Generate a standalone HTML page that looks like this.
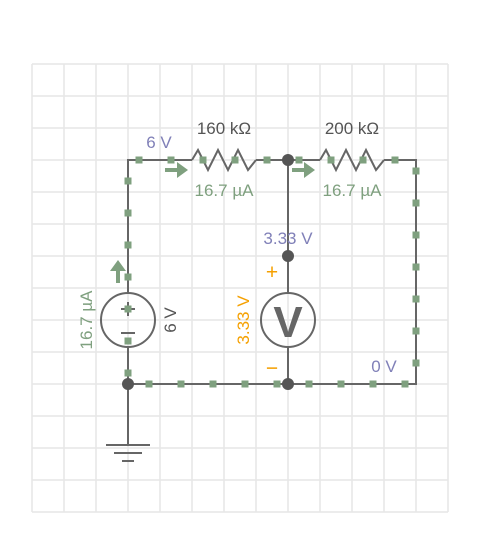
<!DOCTYPE html>
<html><head><meta charset="utf-8"><style>
html,body{margin:0;padding:0;background:#fff;}
svg{display:block;font-family:"Liberation Sans",sans-serif;}
</style></head><body>
<svg width="480" height="544" viewBox="0 0 480 544">
<g id="grid" stroke="#e6e6e6" stroke-width="1.5"></g>
<g stroke="#666" stroke-width="2" fill="none">
<polyline points="128,293 128,160 192,160"/>
<polyline points="192,160 198,150 208,170 218,150 228,170 238,150 248,170 256,160"/>
<polyline points="256,160 320,160"/>
<polyline points="320,160 326,150 336,170 346,150 356,170 366,150 376,170 384,160"/>
<polyline points="384,160 416,160 416,384 128,384 128,347"/>
<line x1="288" y1="160" x2="288" y2="293"/>
<line x1="288" y1="347" x2="288" y2="384"/>
<line x1="128" y1="384" x2="128" y2="445"/>
<line x1="106" y1="445" x2="150" y2="445"/>
<line x1="114" y1="453" x2="142" y2="453"/>
<line x1="122" y1="461" x2="134" y2="461"/>
<circle cx="128" cy="320" r="27"/>
<circle cx="288" cy="320" r="27"/>
<line x1="121" y1="309" x2="135" y2="309"/>
<line x1="128" y1="302" x2="128" y2="316"/>
<line x1="121" y1="333" x2="135" y2="333"/>
</g>
<text x="288" y="337" text-anchor="middle" font-size="44" font-weight="bold" fill="#666">V</text>
<g id="dots" fill="#7fa07f"></g>
<g fill="#555">
<circle cx="288" cy="160" r="6"/>
<circle cx="128" cy="384" r="6"/>
<circle cx="288" cy="384" r="6"/>
<circle cx="288" cy="256" r="6"/>
</g>
<g fill="#7fa07f">
<path d="M165,168h12v-6l11,8l-11,8v-6h-12z"/>
<path d="M292,168h12v-6l11,8l-11,8v-6h-12z"/>
<path d="M116,283v-12h-6l8,-11l8,11h-6v12z"/>
</g>
<g font-size="17">
<text x="224" y="134" text-anchor="middle" fill="#555">160 kΩ</text>
<text x="352" y="134" text-anchor="middle" fill="#555">200 kΩ</text>
<text x="224" y="196" text-anchor="middle" fill="#7fa07f">16.7 µA</text>
<text x="352" y="196" text-anchor="middle" fill="#7fa07f">16.7 µA</text>
<text x="159" y="148" text-anchor="middle" fill="#8080b8">6 V</text>
<text x="288" y="244" text-anchor="middle" fill="#8080b8">3.33 V</text>
<text x="384" y="372" text-anchor="middle" fill="#8080b8">0 V</text>
<text transform="translate(92,320) rotate(-90)" text-anchor="middle" fill="#7fa07f">16.7 µA</text>
<text transform="translate(176,320) rotate(-90)" text-anchor="middle" fill="#555">6 V</text>
<text transform="translate(249,320) rotate(-90)" text-anchor="middle" fill="#f5a000">3.33 V</text>
<text x="272" y="279" text-anchor="middle" font-size="21" fill="#f5a000">+</text>
<text x="272" y="375" text-anchor="middle" font-size="21" fill="#f5a000">−</text>
</g>
</svg>
<script>
var NS='http://www.w3.org/2000/svg';
var g=document.getElementById('grid');
for(var x=32;x<=448;x+=32){var l=document.createElementNS(NS,'line');l.setAttribute('x1',x);l.setAttribute('x2',x);l.setAttribute('y1',64);l.setAttribute('y2',512);


g.appendChild(l);}
for(var y=64;y<=512;y+=32){var l=document.createElementNS(NS,'line');l.setAttribute('y1',y);l.setAttribute('y2',y);l.setAttribute('x1',32);l.setAttribute('x2',448);


g.appendChild(l);}
var d=document.getElementById('dots');
var pts=[];
for(var y=181;y<=373;y+=32)pts.push([128,y]);
for(var x=139;x<=395;x+=32)pts.push([x,160]);
for(var y=171;y<=363;y+=32)pts.push([416,y]);
for(var x=149;x<=405;x+=32)pts.push([x,384]);
pts.forEach(function(p){var r=document.createElementNS(NS,'rect');r.setAttribute('x',p[0]-3.5);r.setAttribute('y',p[1]-3.5);r.setAttribute('width',7);r.setAttribute('height',7);


d.appendChild(r);});
</script>
</body></html>
